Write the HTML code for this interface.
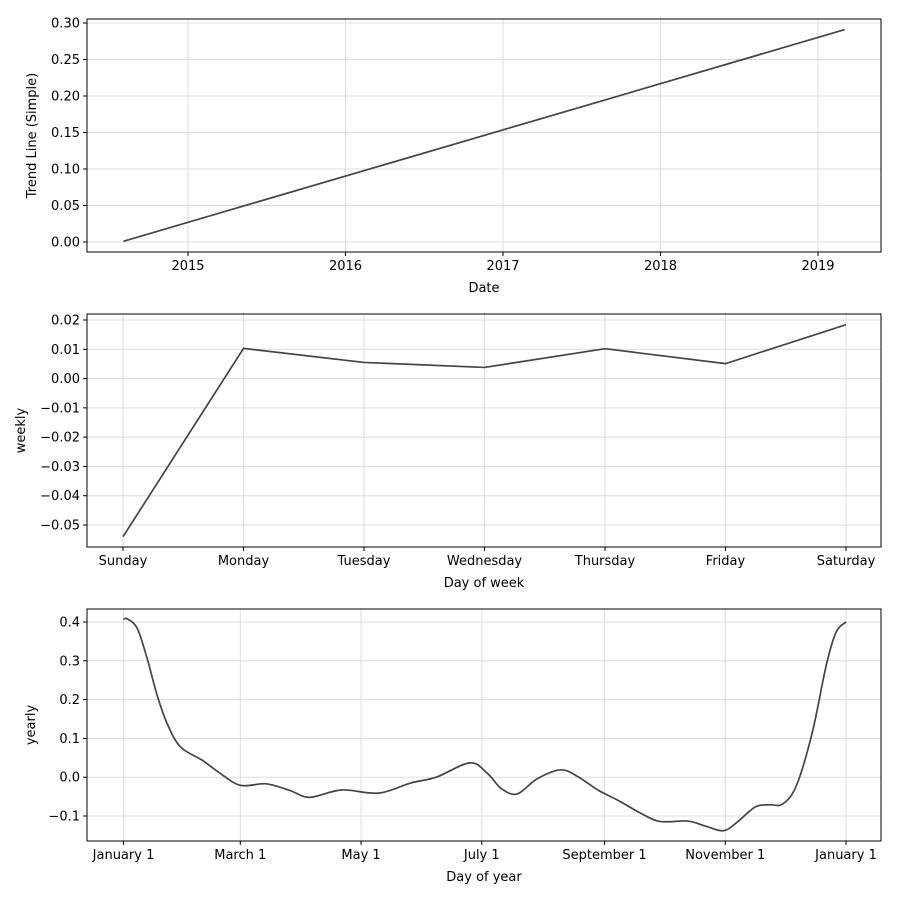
<!DOCTYPE html>
<html><head><meta charset="utf-8"><style>
body{margin:0;background:#fff}
svg text{font-family:"DejaVu Sans","Liberation Sans",sans-serif;font-size:13px;fill:#000}
</style></head><body>
<svg id="s" width="900" height="900"></svg>
<script>
const trendDates=[2014.59,2019.17];
const trendValues=[0.001,0.291];
const trendXTicks=[2015,2016,2017,2018,2019];
const trendYTicks=[0,0.05,0.1,0.15,0.2,0.25,0.3];
const weekDays=["Sunday","Monday","Tuesday","Wednesday","Thursday","Friday","Saturday"];
const weeklyValues=[-0.054,0.0103,0.0055,0.0038,0.0102,0.0051,0.0184];
const weeklyYTicks=[-0.05,-0.04,-0.03,-0.02,-0.01,0,0.01,0.02];
const yearDays=[0,2,7,12,17,22.5,29,40,48,59,72,84,94,110,129,145,158,175,184,191,199,209,221,230,240,250,261,271,285,294,303,310,319,326,333,340,348,355,360,365];
const yearlyValues=[0.407,0.408,0.383,0.305,0.211,0.133,0.077,0.043,0.013,-0.021,-0.017,-0.034,-0.052,-0.033,-0.041,-0.015,0,0.037,0.009,-0.030,-0.043,-0.004,0.019,0,-0.034,-0.060,-0.092,-0.114,-0.113,-0.126,-0.138,-0.116,-0.077,-0.071,-0.069,-0.021,0.116,0.288,0.374,0.400];
const yearTickDays=[0,59,120,181,243,304,365];
const yearTickLabels=["January 1","March 1","May 1","July 1","September 1","November 1","January 1"];
const yearlyYTicks=[-0.1,0,0.1,0.2,0.3,0.4];

const S=document.getElementById('s');const NS='http://www.w3.org/2000/svg';
function el(t,a,p){const e=document.createElementNS(NS,t);for(const k in a)e.setAttribute(k,a[k]);(p||S).appendChild(e);return e;}
function lin(d0,d1,r0,r1){return v=>r0+(v-d0)*(r1-r0)/(d1-d0);}
function panel(name,L,T,R,B,xs,ys,xt,xl,yt,yl,xlabel,ylabel,ylx,pts,smooth){
  const g=el('g',{});
  
  
  xt.forEach(v=>{el('line',{x1:xs(v),x2:xs(v),y1:T,y2:B,stroke:'#ddd','stroke-width':1},g);});
  yt.forEach(v=>{el('line',{x1:L,x2:R,y1:ys(v),y2:ys(v),stroke:'#ddd','stroke-width':1},g);});
  let d;
  if(!smooth){d=pts.map((p,i)=>(i?'L':'M')+xs(p[0]).toFixed(2)+' '+ys(p[1]).toFixed(2)).join(' ');}
  else{const P=pts.map(p=>[xs(p[0]),ys(p[1])]);d='M'+P[0][0]+' '+P[0][1];
    for(let i=0;i<P.length-1;i++){const p0=P[Math.max(0,i-1)],p1=P[i],p2=P[i+1],p3=P[Math.min(P.length-1,i+2)];
      d+=' C'+(p1[0]+(p2[0]-p0[0])/6)+' '+(p1[1]+(p2[1]-p0[1])/6)+' '+(p2[0]-(p3[0]-p1[0])/6)+' '+(p2[1]-(p3[1]-p1[1])/6)+' '+p2[0]+' '+p2[1];}}
  const ln=el('path',{d:d,fill:'none',stroke:'#444','stroke-width':1.7},g);
  
  
  el('rect',{x:L,y:T,width:R-L,height:B-T,fill:'none',stroke:'#000','stroke-width':1},g);
  xt.forEach((v,i)=>{el('line',{x1:xs(v),x2:xs(v),y1:B,y2:B+4,stroke:'#000'},g);
    const t=el('text',{x:xs(v),y:B+18,'text-anchor':'middle'},g);t.textContent=xl[i];
    });
  yt.forEach((v,i)=>{el('line',{x1:L-4,x2:L,y1:ys(v),y2:ys(v),stroke:'#000'},g);
    const t=el('text',{x:L-7,y:ys(v)+4.5,'text-anchor':'end'},g);t.textContent=yl[i];
    });
  const xa=el('text',{x:(L+R)/2,y:B+40,'text-anchor':'middle'},g);xa.textContent=xlabel;
  
  const ya=el('text',{x:ylx,y:(T+B)/2,'text-anchor':'middle',transform:`rotate(-90 ${ylx} ${(T+B)/2})`},g);ya.textContent=ylabel;
  
}
const fmt=(v,n)=>(v<0?'\u2212':'')+Math.abs(v).toFixed(n);
panel('trend-panel',87,19,881,252,lin(2015,2019,188,818),lin(0,0.3,242,23),trendXTicks,trendXTicks.map(String),trendYTicks,trendYTicks.map(v=>fmt(v,2)),'Date','Trend Line (Simple)',36,trendDates.map((d,i)=>[d,trendValues[i]]),false);
panel('weekly-panel',87,314,881,547,lin(0,6,123,846),lin(-0.05,0.02,525,320),weekDays.map((_,i)=>i),weekDays,weeklyYTicks,weeklyYTicks.map(v=>fmt(v,2)),'Day of week','weekly',25,weeklyValues.map((v,i)=>[i,v]),false);
panel('yearly-panel',87,609,881,841,lin(0,365,123.5,846),lin(-0.1,0.4,816,622),yearTickDays,yearTickLabels,yearlyYTicks,yearlyYTicks.map(v=>fmt(v,1)),'Day of year','yearly',35,yearDays.map((d,i)=>[d,yearlyValues[i]]),true);
</script>
</body></html>
